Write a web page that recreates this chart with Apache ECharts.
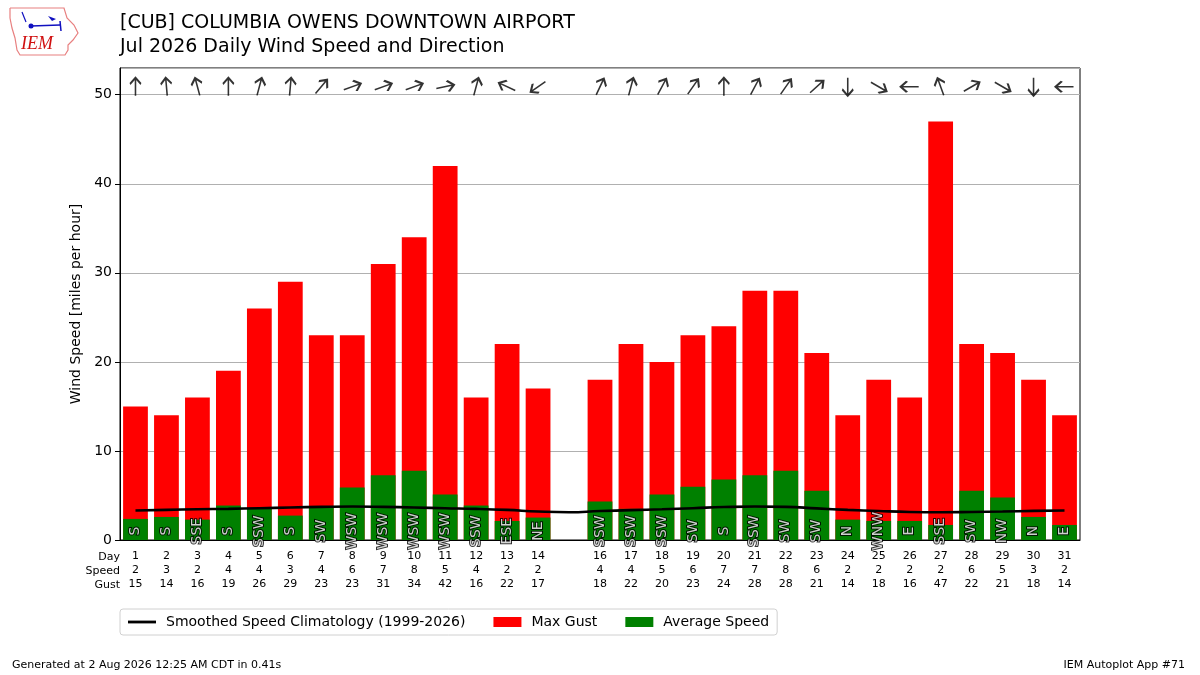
<!DOCTYPE html>
<html lang="en">
<head>
<meta charset="UTF-8">
<title>CUB Daily Wind Speed and Direction</title>
<script src="https://cdn.jsdelivr.net/npm/echarts@6/dist/echarts.min.js"></script>
<style>
    html, body {margin: 0; padding: 0; background: #fff;}
    #chart1 {width: 1200px; height: 675px;}
</style>
</head>
<body>
<div id="chart1"></div>
<script type="text/javascript">
    // 每日数据 (15号缺测)
    var days = ['1', '2', '3', '4', '5', '6', '7', '8', '9', '10', '11', '12', '13', '14', '15', '16',
        '17', '18', '19', '20', '21', '22', '23', '24', '25', '26', '27', '28', '29', '30', '31'];
    var avgSpeed = [2.37, 2.59, 2.29, 3.87, 3.6, 2.74, 3.6, 5.9, 7.26, 7.78, 5.11, 3.87, 2.14, 2.52, null, 4.32,
        3.5, 5.11, 5.98, 6.8, 7.26, 7.78, 5.53, 2.29, 2.14, 2.14, 1.69, 5.53, 4.77, 2.59, 1.69];
    var maxGust = [15, 14, 16, 19, 26, 29, 23, 23, 31, 34, 42, 16, 22, 17, null, 18,
        22, 20, 23, 24, 28, 28, 21, 14, 18, 16, 47, 22, 21, 18, 14];
    var speedLabels = ['2', '3', '2', '4', '4', '3', '4', '6', '7', '8', '5', '4', '2', '2', '', '4',
        '4', '5', '6', '7', '7', '8', '6', '2', '2', '2', '2', '6', '5', '3', '2'];
    var climo = [3.31, 3.38, 3.45, 3.5, 3.57, 3.65, 3.72, 3.76, 3.72, 3.65, 3.57, 3.5, 3.38, 3.2, 3.12, 3.25,
        3.35, 3.45, 3.57, 3.7, 3.76, 3.72, 3.55, 3.38, 3.25, 3.15, 3.12, 3.15, 3.2, 3.27, 3.31];
    var dirText = ['S', 'S', 'SSE', 'S', 'SSW', 'S', 'SW', 'WSW', 'WSW', 'WSW', 'WSW', 'SSW', 'ESE', 'NE', '', 'SSW',
        'SSW', 'SSW', 'SW', 'S', 'SSW', 'SW', 'SW', 'N', 'WNW', 'E', 'SSE', 'SW', 'NW', 'N', 'E'];
    var dirDeg = [180, 175, 165, 180, 195, 185, 220, 250, 250, 250, 258, 195, 115, 55, null, 205,
        195, 208, 215, 180, 208, 215, 228, 0, 300, 90, 160, 240, 300, 0, 90];
    var yTicks = {min: 0, max: 53, interval: 10};

    var ARROW_Y = 50.9;   // 箭头所在高度
    var LABEL_Y = 1;      // 风向文字所在高度
    var FONT = 'DejaVu Sans';

    var labelData = dirText.map(function (d, i) {
        return d ? [i, LABEL_Y] : null;
    });
    var arrowData = dirDeg.map(function (d, i) {
        if (d === null) return null;
        // 箭头指向风的去向
        return {value: [i, ARROW_Y], symbolRotate: -(d + 180)};
    });

    var myChart = echarts.init(document.getElementById('chart1'));
    var option = {
        animation: false,
        textStyle: {fontFamily: FONT, color: '#000'},
        title: [
            {text: '[CUB] COLUMBIA OWENS DOWNTOWN AIRPORT', left: 115, top: 9,
                textStyle: {fontSize: 19, fontWeight: 'normal', fontFamily: FONT, color: '#000'}},
            {text: 'Jul 2026 Daily Wind Speed and Direction', left: 115, top: 33,
                textStyle: {fontSize: 19, fontWeight: 'normal', fontFamily: FONT, color: '#000'}},
            {text: 'Generated at 2 Aug 2026 12:25 AM CDT in 0.41s', left: 7, top: 655,
                textStyle: {fontSize: 11, fontWeight: 'normal', fontFamily: FONT, color: '#000'}},
            {text: 'IEM Autoplot App #71', right: 10, top: 655,
                textStyle: {fontSize: 11, fontWeight: 'normal', fontFamily: FONT, color: '#000'}}
        ],
        legend: {
            left: 120, top: 609,
            padding: [6, 8],
            itemGap: 28,
            itemWidth: 28, itemHeight: 10,
            borderColor: '#d0d0d0', borderWidth: 1, borderRadius: 3,
            textStyle: {fontSize: 14, fontFamily: FONT, color: '#000', padding: [0, 0, 0, 5]},
            data: [
                {name: 'Smoothed Speed Climatology (1999-2026)', icon: 'path://M0,0 L30,0 L30,3 L0,3 Z'},
                {name: 'Max Gust', icon: 'rect'},
                {name: 'Average Speed', icon: 'rect'}
            ]
        },
        grid: {
            left: 120, right: 120, top: 68, bottom: 135,
            show: true, borderColor: '#000', borderWidth: 1
        },
        xAxis: {
            type: 'category',
            data: days,
            axisLine: {lineStyle: {color: '#000'}},
            axisTick: {
                alignWithLabel: true, length: 5, lineStyle: {color: '#000'},
                interval: function (idx) { return maxGust[idx] !== null; }
            },
            axisLabel: {
                interval: 0, fontSize: 11, lineHeight: 14, margin: 9, color: '#000',
                formatter: function (val, idx) {
                    if (maxGust[idx] === null) return '';
                    return val + '\n' + speedLabels[idx] + '\n' + maxGust[idx];
                }
            }
        },
        yAxis: {
            type: 'value',
            min: yTicks.min, max: yTicks.max, interval: yTicks.interval,
            name: 'Wind Speed [miles per hour]',
            nameLocation: 'middle', nameGap: 35, nameRotate: 90,
            nameTextStyle: {fontSize: 14, fontFamily: FONT, color: '#000'},
            axisLine: {show: true, lineStyle: {color: '#000'}},
            axisTick: {show: true, length: 5, lineStyle: {color: '#000'}},
            axisLabel: {fontSize: 14, color: '#000', margin: 8, showMaxLabel: false},
            splitLine: {show: true, lineStyle: {color: '#b0b0b0', width: 1}}
        },
        graphic: [
            {type: 'text', right: 1080, top: 552, style: {text: 'Day', font: '11px "DejaVu Sans"', fill: '#000', textAlign: 'right'}},
            {type: 'text', right: 1080, top: 566, style: {text: 'Speed', font: '11px "DejaVu Sans"', fill: '#000', textAlign: 'right'}},
            {type: 'text', right: 1080, top: 580, style: {text: 'Gust', font: '11px "DejaVu Sans"', fill: '#000', textAlign: 'right'}},
            // IEM 标志
            {type: 'polyline', shape: {points: [[10, 8], [64, 8], [67, 18], [74, 25], [78, 33], [73, 40], [68, 45], [68, 50], [65, 55], [20, 55], [17, 50], [15, 38], [12, 28], [10, 18], [10, 8]]},
                style: {stroke: '#e88080', lineWidth: 1.2, fill: '#fff'}},
            {type: 'line', shape: {x1: 31, y1: 26, x2: 60, y2: 25}, style: {stroke: '#1010c0', lineWidth: 1.5}},
            {type: 'circle', shape: {cx: 31, cy: 26, r: 2.5}, style: {fill: '#1010c0'}},
            {type: 'polygon', shape: {points: [[48, 16], [56, 19], [52, 21]]}, style: {fill: '#1010c0'}},
            {type: 'line', shape: {x1: 60, y1: 21, x2: 61, y2: 31}, style: {stroke: '#1010c0', lineWidth: 1.5}},
            {type: 'line', shape: {x1: 22, y1: 12, x2: 26, y2: 22}, style: {stroke: '#1010c0', lineWidth: 1.2}},
            {type: 'text', left: 21, top: 35, style: {text: 'IEM', font: 'italic 18px "Liberation Serif"', fill: '#d01010'}}
        ],
        series: [
            {
                name: 'Max Gust', type: 'bar', data: maxGust,
                barWidth: '80%', barGap: '-100%',
                itemStyle: {color: '#ff0000'}, z: 2
            },
            {
                name: 'Average Speed', type: 'bar', data: avgSpeed,
                barWidth: '80%', barGap: '-100%',
                itemStyle: {color: '#008000'}, z: 3
            },
            {
                name: 'Smoothed Speed Climatology (1999-2026)', type: 'line', data: climo,
                smooth: true, symbol: 'none',
                lineStyle: {color: '#000', width: 2.6}, itemStyle: {color: '#000'}, z: 4
            },
            {
                name: 'dirlabel', type: 'scatter', data: labelData,
                symbolSize: 1, itemStyle: {color: 'rgba(0,0,0,0)'}, z: 5, silent: true,
                label: {
                    show: true, position: 'inside', rotate: 90,
                    fontSize: 14, fontFamily: FONT, color: '#fff',
                    textBorderColor: '#000', textBorderWidth: 2,
                    formatter: function (p) { return dirText[p.dataIndex]; }
                }
            },
            {
                name: 'arrows', type: 'scatter', data: arrowData,
                symbol: 'path://M10,0 L10,20 M4,7 L10,0 L16,7',
                symbolSize: [11, 18],
                itemStyle: {color: 'rgba(0,0,0,0)', borderColor: '#000', borderWidth: 2},
                z: 5, silent: true
            }
        ]
    };
    myChart.setOption(option);
</script>
</body>
</html>
